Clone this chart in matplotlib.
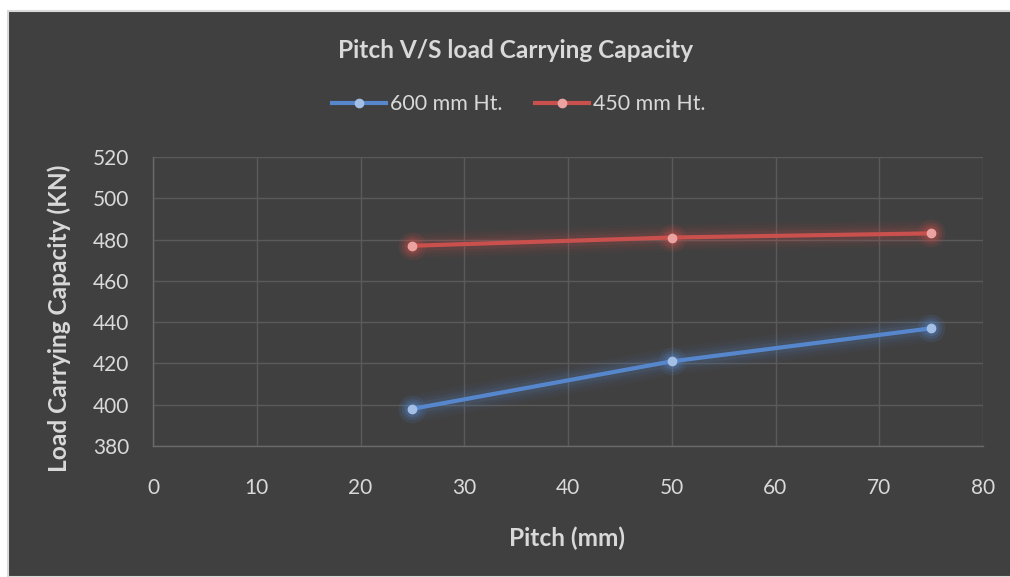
# Pitch vs load carrying capacity (dark Excel-style line chart)

import matplotlib.pyplot as plt
from matplotlib.patches import Rectangle

# ----------------------------------------------------------------------------------------------------------------------
#  DATA
# ----------------------------------------------------------------------------------------------------------------------
pitch        = [25, 50, 75]
load_600     = [398, 421, 437]
load_450     = [477, 481, 483]
series_names = ['600 mm Ht.', '450 mm Ht.']
x_ticks      = [0, 10, 20, 30, 40, 50, 60, 70, 80]
y_ticks      = [380, 400, 420, 440, 460, 480, 500, 520]

# ----------------------------------------------------------------------------------------------------------------------
#  STYLE
# ----------------------------------------------------------------------------------------------------------------------
bg_color    = '#404040'
text_color  = '#d9d9d9'
grid_color  = '#5a5a5a'
line_colors = ['#5687cc', '#c9504d']
mark_colors = ['#a3bfe6', '#eba3a1']
W, H        = 1010, 577

plt.rcParams['font.family'] = ['Lato', 'DejaVu Sans']

fig = plt.figure(figsize=(W / 100, H / 100), dpi=100)
fig.patch.set_facecolor('white')

# dark chart area with thin light border
fig.patches.append(Rectangle((8 / W, 0), 1.0, 1 - 11 / H, transform=fig.transFigure,
                             facecolor=bg_color, edgecolor='#d9d9d9', linewidth=1.5, zorder=-5))

ax = fig.add_axes([153 / W, 1 - 446 / H, (983 - 153) / W, (446 - 157) / H])
ax.set_facecolor(bg_color)

for y, name, lc, mc in zip([load_600, load_450], series_names, line_colors, mark_colors):
    # soft glow under the line
    for lw, a in [(20, 0.04), (16, 0.05), (12, 0.07), (8, 0.10)]:
        ax.plot(pitch, y, color=lc, linewidth=lw, alpha=a, solid_capstyle='round', zorder=2)
    for ms, a in [(20, 0.10), (15, 0.15), (11, 0.2)]:
        ax.plot(pitch, y, linestyle='none', marker='o', markersize=ms, color=lc, alpha=a,
                markeredgewidth=0, zorder=2)
    ax.plot(pitch, y, color=lc, linewidth=3.0, marker='o', markersize=6,
            markerfacecolor=mc, markeredgecolor=mc, label=name, zorder=3)

ax.set_xlim(0, 80)
ax.set_ylim(380, 520)
ax.set_xticks(x_ticks)
ax.set_yticks(y_ticks)
ax.grid(True, color=grid_color, linewidth=1.0)
ax.set_axisbelow(True)
ax.tick_params(length=0, colors=text_color, labelsize=15)
ax.tick_params(axis='y', pad=17)
ax.tick_params(axis='x', pad=23)
for side in ['top', 'right']:
    ax.spines[side].set_visible(False)
for side in ['left', 'bottom']:
    ax.spines[side].set_color('#6a6a6a')
    ax.spines[side].set_linewidth(1.0)

# titles and axis labels
fig.text(516 / W, 1 - 50 / H, 'Pitch V/S load Carrying Capacity', ha='center', va='center',
         color=text_color, fontsize=17.6, fontweight='bold')
fig.text(567 / W, 1 - 538 / H, 'Pitch (mm)', ha='center', va='center',
         color=text_color, fontsize=17.6, fontweight='bold')
fig.text(59 / W, 1 - 318 / H, 'Load Carrying Capacity (KN)', ha='center', va='center', rotation=90,
         color=text_color, fontsize=17.6, fontweight='bold')

leg = ax.legend(loc='center', bbox_to_anchor=(0.441, 1 + (157 - 104) / 289), ncol=2, frameon=False,
                fontsize=15.4, handlelength=2.5, columnspacing=1.5, handletextpad=0.23)
for t in leg.get_texts():
    t.set_color(text_color)

fig.savefig('out.png', dpi=100, facecolor=fig.get_facecolor())
